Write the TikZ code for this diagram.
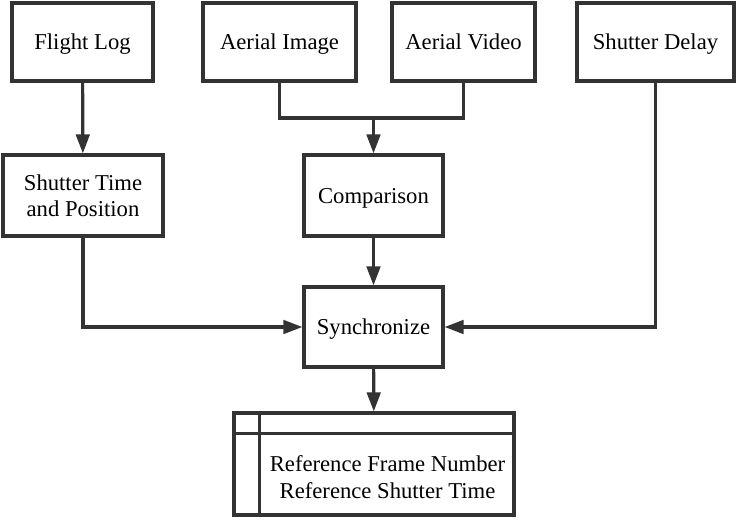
\documentclass[tikz,border=0pt]{standalone}
\usepackage{fontspec}
\setmainfont{Liberation Serif}
\usetikzlibrary{arrows.meta}
\definecolor{linegray}{HTML}{333333}
\begin{document}
\begin{tikzpicture}[x=0.02cm,y=-0.02cm,
 box/.style={draw=linegray,line width=1.8pt,align=center,inner sep=0pt,text depth=0pt,font=\fontsize{12.9}{15}\selectfont},
 arr/.style={draw=linegray,line width=1.8pt,-{Triangle[length=0.38cm,width=0.27cm]}},
 ln/.style={draw=linegray,line width=1.8pt}]
 \useasboundingbox (0,0) rectangle (737,521);
 \node[box,minimum width=2.82cm,minimum height=1.56cm] (flight) at (82.5,42) {Flight Log};
 \node[box,minimum width=3.06cm,minimum height=1.56cm] (image) at (279.5,42) {Aerial Image};
 \node[box,minimum width=2.86cm,minimum height=1.56cm] (video) at (463.5,42) {Aerial Video};
 \node[box,minimum width=3.14cm,minimum height=1.56cm] (delay) at (655.5,42) {Shutter Delay};
 \node[box,minimum width=3.2cm,minimum height=1.62cm] (shutter) at (83,195.5) {Shutter Time\\and Position};
 \node[box,minimum width=2.78cm,minimum height=1.62cm] (compare) at (373.5,195.5) {Comparison};
 \node[box,minimum width=2.78cm,minimum height=1.6cm] (sync) at (373.5,327) {Synchronize};
 \node[box,minimum width=5.6cm,minimum height=2.04cm] (ref) at (374,464) {};
 \node[box,draw=none] (reftext) at (387.5,477) {Reference Frame Number\\Reference Shutter Time};
 \draw[ln] (ref.north west) ++(27,0) -- ++(0,102);
 \draw[ln] (ref.north west) ++(0,22) -- ++(280,0);
 \coordinate (join) at (373.5,118);
 \draw[arr] (flight) -- (shutter);
 \draw[ln] (image.south) |- (join) -| (video.south);
 \draw[arr] (join) -- (compare.north);
 \draw[arr] (compare) -- (sync);
 \draw[arr] (shutter.south) |- (sync.west);
 \draw[arr] (delay.south) |- (sync.east);
 \draw[arr] (sync) -- (ref);
\end{tikzpicture}
\end{document}
